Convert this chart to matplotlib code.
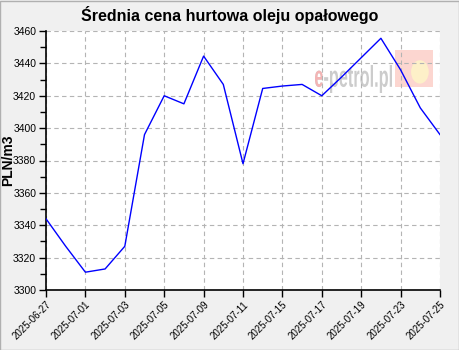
import matplotlib
matplotlib.use("Agg")
import matplotlib.pyplot as plt
from matplotlib.ticker import MultipleLocator
from matplotlib.patches import Rectangle, Ellipse, PathPatch
from matplotlib.textpath import TextPath
from matplotlib.font_manager import FontProperties
from matplotlib.transforms import Affine2D

title = "Średnia cena hurtowa oleju opałowego"
ylabel = "PLN/m3"
tick_labels = ["2025-06-27", "2025-07-01", "2025-07-03", "2025-07-05", "2025-07-09",
               "2025-07-11", "2025-07-15", "2025-07-17", "2025-07-19", "2025-07-23",
               "2025-07-25"]
prices = [3344, 3327, 3311, 3313, 3327, 3396, 3420, 3415, 3444.5, 3427, 3378,
          3424.5, 3426, 3427, 3420, 3431.5, 3443.5, 3455.5, 3436, 3412.5, 3396]

W, H = 460, 350
fig = plt.figure(figsize=(W/100, H/100), dpi=100, facecolor="#f0f0f0")
fig.add_artist(Rectangle((0.001, 0.001), 0.997, 0.996, transform=fig.transFigure,
                         fill=False, edgecolor="#b0b0b0", linewidth=1))
ax = fig.add_axes([46/W, 1-290/H, (440-46)/W, (290-31)/H])
ax.set_facecolor("white")

x = list(range(len(prices)))
ax.plot(x, prices, color="#0000ff", linewidth=1.0, zorder=3)

ax.set_xlim(0, len(prices)-1)
ax.set_ylim(3300, 3460)
ax.set_xticks(x[::2])
ax.set_xticklabels(tick_labels, rotation=45, ha="right", rotation_mode="anchor",
                   fontsize=7, family="Liberation Sans")
ax.yaxis.set_major_locator(MultipleLocator(20))
ax.yaxis.set_minor_locator(MultipleLocator(10))
for lbl in ax.get_yticklabels():
    lbl.set_fontsize(7.5)
    lbl.set_family("Liberation Sans")
ax.tick_params(axis="both", which="major", length=5, width=1, color="black", pad=2)
ax.tick_params(axis="y", which="minor", length=4, width=1, color="black")
ax.grid(True, which="major", linestyle=(0, (4, 3)), color="#b4b4b4", linewidth=0.8)
for s in ["top", "right"]:
    ax.spines[s].set_visible(False)
for s in ["left", "bottom"]:
    ax.spines[s].set_linewidth(1.2)

fig.text(8/W, 1-160/H, ylabel, rotation=90, ha="center", va="center",
         fontsize=10, fontweight="bold", family="Liberation Sans")
fig.text(0.5, 1-15/H, title, ha="center", va="center", fontsize=11.5,
         fontweight="bold", family="Liberation Sans")

# watermark (logo)
ax.add_patch(Rectangle((0.886, 0.784), 0.096, 0.143, transform=ax.transAxes,
                       facecolor="#fcd6d0", edgecolor="none", zorder=1))
ax.add_patch(Ellipse((0.949, 0.842), 0.045, 0.09, transform=ax.transAxes,
                     facecolor="#fdf0c8", edgecolor="none", zorder=1))
fp = FontProperties(family="Liberation Sans", weight="bold")
full = TextPath((0, 0), "e-petrol.pl", size=10, prop=fp)
epart = TextPath((0, 0), "e", size=10, prop=fp)
ext = full.get_extents()
x0px, x1px, ytop, ybot = 315, 392, 65, 93
tr = (Affine2D().translate(-ext.x0, -ext.y0)
      .scale((x1px-x0px)/ext.width/W, (ybot-ytop)/ext.height/H)
      .translate(x0px/W, 1-ybot/H)) + fig.transFigure
ax.add_patch(PathPatch(full, transform=tr, facecolor="#cccccc", edgecolor="none", zorder=1))
ax.add_patch(PathPatch(epart, transform=tr, facecolor="#f4b4b4", edgecolor="none", zorder=1.1))

fig.savefig("out.png", dpi=100, facecolor=fig.get_facecolor())
